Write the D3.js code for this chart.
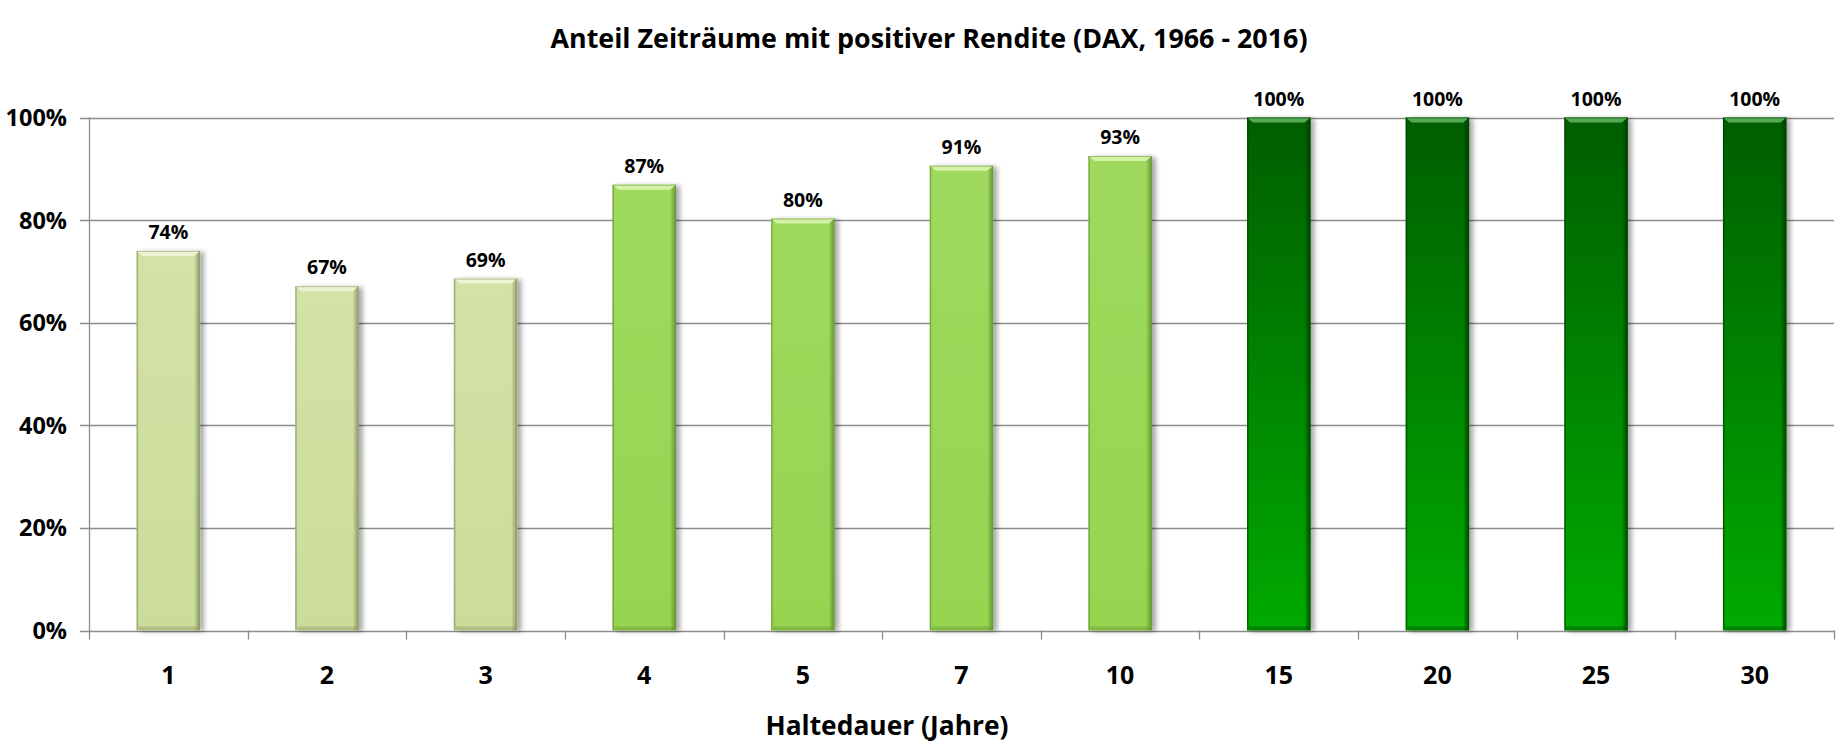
<!DOCTYPE html>
<html><head><meta charset="utf-8">
<script src="https://cdn.jsdelivr.net/npm/d3@7"></script>
<style>html,body{margin:0;padding:0;background:#fff;}svg{display:block;font-family:"Open Sans",sans-serif;}</style>
</head><body>
<svg id="c" width="1842" height="756"></svg>
<script>
const categories = ["1","2","3","4","5","7","10","15","20","25","30"];
const values = [74.0, 67.1, 68.6, 86.9, 80.3, 90.6, 92.5, 100, 100, 100, 100];
const groups = ["light","light","light","mid","mid","mid","mid","dark","dark","dark","dark"];
const yTicks = [0, 20, 40, 60, 80, 100];
const title = "Anteil Zeiträume mit positiver Rendite (DAX, 1966 - 2016)";
const xTitle = "Haltedauer (Jahre)";

const svg = d3.select("#c");
const L = 89, R = 1834, T = 117.5, B = 630.5;
const x = d3.scaleBand().domain(categories).range([L, R]).paddingInner(0.6).paddingOuter(0.3);
const y = d3.scaleLinear().domain([0, 100]).range([B, T]);

const defs = svg.append("defs");
const pal = {
  light: {top:"#d3e2a6", bot:"#cbdc9a", edge:"#7f8c5c", hi:"#eef5d6"},
  mid:   {top:"#9fda5e", bot:"#96d450", edge:"#5e8a2e", hi:"#d9f4b0"},
  dark:  {top:"#005e00", bot:"#00aa00", edge:"#003a00", hi:"#5fb25f"}
};
Object.entries(pal).forEach(([k,p])=>{
  const g = defs.append("linearGradient").attr("id","g-"+k).attr("x1",0).attr("y1",0).attr("x2",0).attr("y2",1);
  g.append("stop").attr("offset","0%").attr("stop-color",p.top);
  g.append("stop").attr("offset","100%").attr("stop-color",p.bot);
  const h = defs.append("linearGradient").attr("id","h-"+k).attr("x1",0).attr("y1",0).attr("x2",1).attr("y2",0);
  h.append("stop").attr("offset","0%").attr("stop-color",p.edge).attr("stop-opacity",0.0);
  h.append("stop").attr("offset","100%").attr("stop-color",p.edge).attr("stop-opacity",0.9);
});
const f = defs.append("filter").attr("id","sh").attr("x","-20%").attr("y","-5%").attr("width","150%").attr("height","115%");
f.append("feGaussianBlur").attr("in","SourceAlpha").attr("stdDeviation",2.5);
f.append("feOffset").attr("dx",4).attr("dy",1).attr("result","b");
f.append("feComponentTransfer").append("feFuncA").attr("type","linear").attr("slope",0.35);
const fm = f.append("feMerge"); fm.append("feMergeNode"); fm.append("feMergeNode").attr("in","SourceGraphic");

// gridlines with outer ticks
svg.append("g").selectAll("line").data(yTicks).join("line")
  .attr("x1", L-9).attr("x2", R).attr("y1", d=>Math.round(y(d))+0.5).attr("y2", d=>Math.round(y(d))+0.5)
  .attr("stroke","#8c8c8c").attr("stroke-width",1.3);
// y axis
svg.append("line").attr("x1",L+0.5).attr("x2",L+0.5).attr("y1",T).attr("y2",B+0.5).attr("stroke","#8c8c8c").attr("stroke-width",1.3);
// x ticks between categories
const bounds = d3.range(categories.length+1).map(i=>L + i*(R-L)/categories.length);
svg.append("g").selectAll("line").data(bounds).join("line")
  .attr("x1",d=>Math.round(d)+0.5).attr("x2",d=>Math.round(d)+0.5).attr("y1",B).attr("y2",B+9)
  .attr("stroke","#8c8c8c").attr("stroke-width",1.3);

// y labels
svg.append("g").selectAll("text").data(yTicks).join("text")
  .attr("x", 67).attr("y", d=>y(d)).attr("dy","0.36em").attr("text-anchor","end")
  .attr("font-size",23.5).attr("font-weight",700).attr("fill","#000")
  .text(d=>d+"%");

// bars
const bw = x.bandwidth();
const bars = svg.append("g").selectAll("g").data(categories).join("g");
bars.each(function(c,i){
  const g = d3.select(this);
  const v = values[i], p = groups[i], pp = pal[p];
  const x0 = x(c), y0 = y(v), h = y(0)-y(v);
  g.append("rect").attr("x",x0).attr("y",y0).attr("width",bw).attr("height",h)
    .attr("fill","url(#g-"+p+")").attr("filter","url(#sh)");
  g.append("rect").attr("x",x0+bw-6).attr("y",y0).attr("width",6).attr("height",h).attr("fill","url(#h-"+p+")");
  g.append("rect").attr("x",x0).attr("y",y0).attr("width",1.5).attr("height",h).attr("fill",pp.edge).attr("opacity",0.6);
  g.append("path").attr("d",`M${x0},${y0} L${x0+bw},${y0} L${x0+bw-6},${y0+5} L${x0+6},${y0+5} Z`)
    .attr("fill",pp.hi).attr("opacity",0.9);
  g.append("line").attr("x1",x0).attr("x2",x0+bw).attr("y1",y0+0.5).attr("y2",y0+0.5).attr("stroke",pp.edge).attr("stroke-width",1).attr("opacity",0.5);
  g.append("rect").attr("x",x0+2).attr("y",y(0)-4).attr("width",bw-4).attr("height",4).attr("fill",pp.edge).attr("opacity",0.35);
  g.append("text").attr("x",x0+bw/2).attr("y",y0-12).attr("text-anchor","middle")
    .attr("font-size",19.5).attr("font-weight",700).attr("fill","#000")
    .text(Math.round(v)+"%");
});

// x labels
svg.append("g").selectAll("text").data(categories).join("text")
  .attr("x", d=>x(d)+bw/2).attr("y", 675).attr("dy","0.36em").attr("text-anchor","middle")
  .attr("font-size",25).attr("font-weight",700).attr("fill","#000").text(d=>d);

svg.append("text").attr("x",929).attr("y",39).attr("dy","0.36em").attr("text-anchor","middle")
  .attr("font-size",26).attr("font-weight",700).attr("textLength",757).attr("lengthAdjust","spacingAndGlyphs").text(title);
svg.append("text").attr("x",887).attr("y",726).attr("dy","0.36em").attr("text-anchor","middle")
  .attr("font-size",26).attr("font-weight",700).attr("textLength",243).attr("lengthAdjust","spacingAndGlyphs").text(xTitle);
</script>
</body></html>
